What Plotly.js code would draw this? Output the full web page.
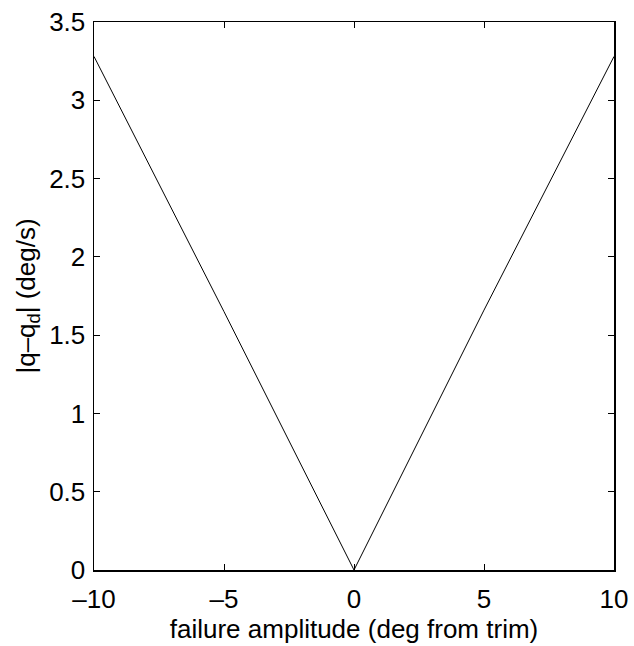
<!DOCTYPE html>
<html>
<head>
<meta charset="utf-8">
<script src="https://cdn.plot.ly/plotly-3.0.1.min.js"></script>
<style>html,body{margin:0;padding:0;background:#fff;}#chart{width:634px;height:646px;}</style>
</head>
<body>
<div id="chart"></div>
<script>
const amplitude = [-10, -5, 0, 5, 10];
const rateError = [3.28, 1.65, 0, 1.66, 3.28];
const xTicks = [-10, -5, 0, 5, 10];
const yTicks = [0, 0.5, 1, 1.5, 2, 2.5, 3, 3.5];

const font = {family: 'Liberation Sans, Arial, sans-serif', size: 26, color: '#000'};
const axisCommon = {
  showgrid: false, zeroline: false, showline: true, linecolor: '#000', linewidth: 1.5,
  mirror: 'ticks', ticks: 'inside', ticklen: 6, tickwidth: 1, tickcolor: '#000',
  tickfont: font, automargin: false
};

Plotly.newPlot('chart', [{
  x: amplitude, y: rateError, type: 'scatter', mode: 'lines',
  line: {color: '#000', width: 1}, hoverinfo: 'none'
}], {
  width: 634, height: 646,
  margin: {l: 94, r: 20, t: 22, b: 76},
  paper_bgcolor: '#fff', plot_bgcolor: '#fff',
  showlegend: false,
  xaxis: Object.assign({}, axisCommon, {
    range: [-10, 10], tickvals: xTicks, ticktext: xTicks.map(v => v < 0 ? '\u2013' + Math.abs(v) : String(v)),
    ticklabelstandoff: 5,
    title: {text: 'failure amplitude (deg from trim)', font: font, standoff: 0}
  }),
  yaxis: Object.assign({}, axisCommon, {
    range: [0, 3.5], tickvals: yTicks, ticktext: yTicks.map(String),
    ticklabelstandoff: 2,
    title: {text: '|q\u2013q<sub>d</sub>| (deg/s)', font: font, standoff: 6}
  })
}, {staticPlot: true});
</script>
</body>
</html>
